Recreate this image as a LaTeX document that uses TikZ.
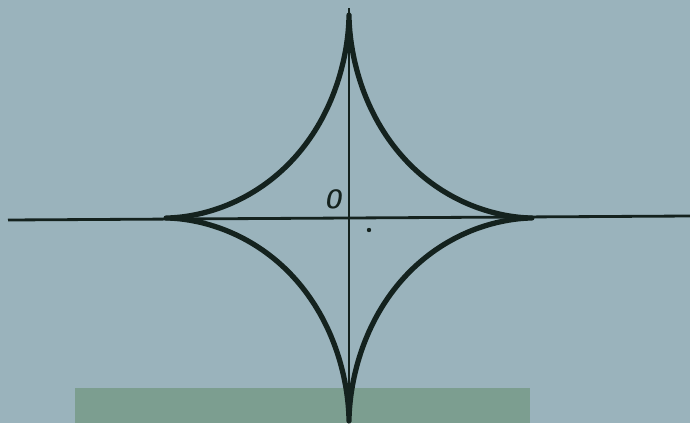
\documentclass[tikz,border=0pt]{standalone}
\usetikzlibrary{positioning}
\definecolor{paperc}{RGB}{154,179,188}
\definecolor{patchc}{RGB}{124,158,144}
\definecolor{inkc}{RGB}{20,34,30}
\tikzset{
  axis/.style={draw=inkc, line width=1.6pt},
  curve/.style={draw=inkc, line width=3pt, line join=round},
}
\begin{document}
\begin{tikzpicture}[x=0.02cm, y=-0.02cm]
  \fill[paperc] (0,0) rectangle (690,423);
  \fill[patchc] (75,388) rectangle (530,423);
  \useasboundingbox (0,0) rectangle (690,423);
  \coordinate (o) at (349,218);
  \coordinate (xl) at (8,220);
  \coordinate (xr) at (690,216);
  \coordinate (yt) at (349,8);
  \coordinate (yb) at (349,423);
  \draw[axis] (xl) -- (xr);
  \draw[axis] (yt) -- (yb);
  % star-shaped curve with long tapering cusps
  \draw[curve, shift={(o)}] plot[domain=0.3:359.7, samples=400]
    ({183*sign(cos(\x))*abs(cos(\x))^3.5}, {-203*sign(sin(\x))*abs(sin(\x))^3.5}) -- cycle;
  \node[font=\fontsize{15}{15}\selectfont\sffamily\bfseries\itshape, inkc, xscale=0.8] (olab) at (333,199) {O};
  \fill[inkc] (369,230) circle (2.2);
\end{tikzpicture}
\end{document}
